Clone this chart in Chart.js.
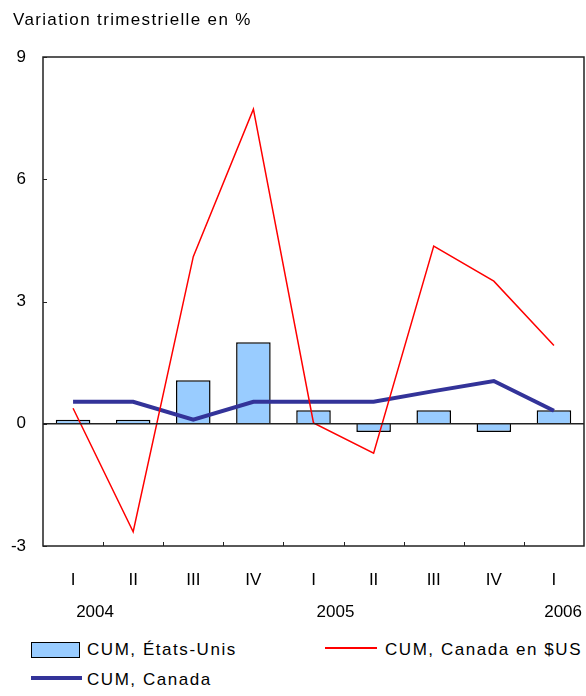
<!DOCTYPE html>
<html>
<head>
<meta charset="utf-8">
<script src="https://cdn.jsdelivr.net/npm/chart.js@4.4.1/dist/chart.umd.min.js"></script>
<style>
    body { margin: 0; background: #fff; font-family: "Liberation Sans", Arial, sans-serif; color: #000; }
    #wrap { position: relative; width: 586px; height: 696px; overflow: hidden; }
    #title { position: absolute; left: 13px; top: 10px; font-size: 17px; letter-spacing: 1.35px; }
    #chartBox { position: absolute; left: 0; top: 0; width: 586px; height: 630px; }
    .leg { position: absolute; font-size: 17px; letter-spacing: 1.55px; line-height: 20px; }
    .sw { position: absolute; box-sizing: border-box; }
</style>
</head>
<body>
<div id="wrap">
    <div id="chartBox"><canvas id="myChart"></canvas></div>
    <div id="title">Variation trimestrielle en %</div>

    <div class="sw" style="left:31px;top:642px;width:49px;height:16px;background:#99ccff;border:1.5px solid #000;"></div>
    <div class="leg" style="left:87px;top:640px;">CUM, États-Unis</div>
    <div class="sw" style="left:325px;top:647px;width:52px;height:2px;background:#ff0000;"></div>
    <div class="leg" style="left:385px;top:640px;">CUM, Canada en $US</div>
    <div class="sw" style="left:31px;top:676px;width:51px;height:4px;background:#333399;"></div>
    <div class="leg" style="left:87px;top:670px;">CUM, Canada</div>
</div>

<script>
const quarters = ['I', 'II', 'III', 'IV', 'I', 'II', 'III', 'IV', 'I'];
const years = ['2004', '', '', '', '2005', '', '', '', '2006'];
const cumEtatsUnis = [0.1, 0.1, 1.07, 2.0, 0.33, -0.2, 0.33, -0.2, 0.33];
const cumCanada = [0.54, 0.54, 0.1, 0.54, 0.54, 0.54, 0.8, 1.05, 0.32];
const cumCanadaUS = [0.38, -2.65, 4.1, 7.72, 0.02, -0.72, 4.36, 3.5, 1.92];
const yTicks = [-3, 0, 3, 6, 9];

// box, zero line, inward ticks and the year row
const framePlugin = {
    id: 'frame',
    afterDatasetsDraw(chart) {
        let ctx = chart.ctx;
        let a = chart.chartArea;
        let x = chart.scales.x;
        let y = chart.scales.y;
        ctx.save();
        ctx.strokeStyle = '#222';
        ctx.lineWidth = 1.5;
        ctx.strokeRect(a.left, a.top, a.right - a.left, a.bottom - a.top);
        let y0 = y.getPixelForValue(0);
        ctx.beginPath();
        ctx.moveTo(a.left, y0);
        ctx.lineTo(a.right, y0);
        ctx.stroke();
        ctx.lineWidth = 1;
        for (let i = 1; i < quarters.length; i++) {
            let px = Math.round((x.getPixelForValue(i - 1) + x.getPixelForValue(i)) / 2) + 0.5;
            ctx.beginPath();
            ctx.moveTo(px, a.bottom);
            ctx.lineTo(px, a.bottom - 4);
            ctx.stroke();
        }
        yTicks.forEach(function (v) {
            let py = Math.round(y.getPixelForValue(v)) + 0.5;
            ctx.beginPath();
            ctx.moveTo(a.left, py);
            ctx.lineTo(a.left + 4, py);
            ctx.stroke();
        });

        ctx.fillStyle = '#000';
        ctx.font = '17px "Liberation Sans", Arial, sans-serif';
        ctx.textAlign = 'center';
        ctx.textBaseline = 'middle';
        years.forEach(function (yr, i) {
            if (!yr) return;
            let w = ctx.measureText(yr).width;
            let cx = Math.min(x.getPixelForValue(i) + 22, a.right - 2 - w / 2);
            ctx.fillText(yr, cx, a.bottom + 66);
        });
        ctx.restore();
    }
};

Chart.defaults.font.family = '"Liberation Sans", Arial, sans-serif';
Chart.defaults.font.size = 17;
Chart.defaults.color = '#000';

let ctx = document.getElementById('myChart').getContext('2d');
const myChart = new Chart(ctx, {
    type: 'bar',
    data: {
        labels: quarters,
        datasets: [{
            type: 'line',
            label: 'CUM, Canada en $US',
            data: cumCanadaUS,
            borderColor: '#ff0000',
            borderWidth: 1.5,
            pointRadius: 0,
            tension: 0,
            order: 1
        }, {
            type: 'line',
            label: 'CUM, Canada',
            data: cumCanada,
            borderColor: '#333399',
            borderWidth: 4,
            pointRadius: 0,
            tension: 0,
            order: 2
        }, {
            type: 'bar',
            label: 'CUM, États-Unis',
            data: cumEtatsUnis,
            backgroundColor: '#99ccff',
            borderColor: '#000',
            borderWidth: 1.5,
            categoryPercentage: 1,
            barPercentage: 0.575,
            order: 3
        }]
    },
    options: {
        responsive: true,
        maintainAspectRatio: false,
        animation: false,
        layout: { padding: { top: 57, right: 2, left: 0, bottom: 0 } },
        plugins: {
            legend: { display: false },
            tooltip: { enabled: false }
        },
        scales: {
            x: {
                grid: { display: false, drawTicks: false },
                border: { display: false },
                afterFit: function (axis) { axis.height = 84; },
                ticks: {
                    padding: 24,
                    maxRotation: 0,
                    autoSkip: false
                }
            },
            y: {
                min: -3,
                max: 9,
                afterBuildTicks: function (axis) {
                    axis.ticks = yTicks.map(function (v) { return { value: v }; });
                },
                afterFit: function (axis) { axis.width = 43; },
                grid: { display: false, drawTicks: false },
                border: { display: false },
                ticks: { padding: 17 }
            }
        }
    },
    plugins: [framePlugin]
});
</script>
</body>
</html>
